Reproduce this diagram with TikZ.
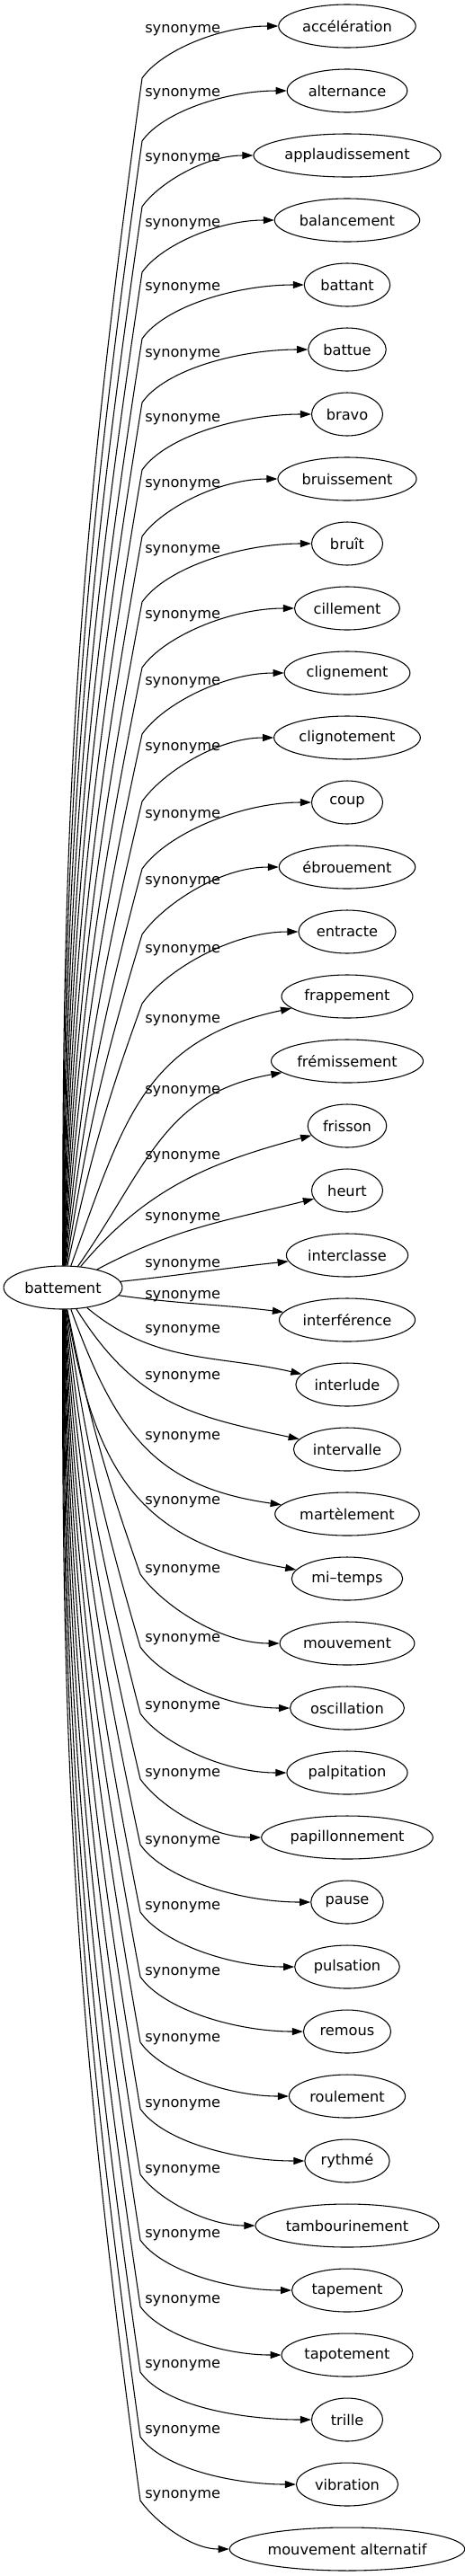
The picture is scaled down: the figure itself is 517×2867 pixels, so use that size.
\documentclass[tikz,border=0pt]{standalone}
\usepackage{fontspec}
\setmainfont{DejaVu Sans}
\usetikzlibrary{arrows.meta,shapes.geometric}
\begin{document}
\begin{tikzpicture}[x=0.75pt, y=0.75pt]
		\tikzstyle{every node}+=[font=\fontsize{12.15pt}{14pt}\selectfont]
		\tikzstyle{word}=[draw=black, line width=0.8pt, ellipse, inner xsep=3pt, inner ysep=0pt, minimum height=36pt, minimum width=59.25pt]
		\tikzstyle{syn}=[anchor=base west, inner sep=0pt]
		\tikzstyle{link}=[black, line width=0.8pt, -{Triangle[length=9pt,width=6pt]}]
		\useasboundingbox (0,0) rectangle (517,-2867);
		% source
		\node [word] (battement) at (70,-1433) {battement};
		% synonyms
		\node [word] (acceleration) at (386,-29) {accélération};
		\node [word] (alternance) at (386,-101) {alternance};
		\node [word] (applaudissement) at (386,-173) {applaudissement};
		\node [word] (balancement) at (386,-245) {balancement};
		\node [word] (battant) at (386,-317) {battant};
		\node [word] (battue) at (386,-389) {battue};
		\node [word] (bravo) at (386,-461) {bravo};
		\node [word] (bruissement) at (386,-533) {bruissement};
		\node [word] (bruit) at (386,-605) {bruît};
		\node [word] (cillement) at (386,-677) {cillement};
		\node [word] (clignement) at (386,-749) {clignement};
		\node [word] (clignotement) at (386,-821) {clignotement};
		\node [word] (coup) at (386,-893) {coup};
		\node [word] (ebrouement) at (386,-965) {ébrouement};
		\node [word] (entracte) at (386,-1037) {entracte};
		\node [word] (frappement) at (386,-1109) {frappement};
		\node [word] (fremissement) at (386,-1181) {frémissement};
		\node [word] (frisson) at (386,-1253) {frisson};
		\node [word] (heurt) at (386,-1325) {heurt};
		\node [word] (interclasse) at (386,-1397) {interclasse};
		\node [word] (interference) at (386,-1469) {interférence};
		\node [word] (interlude) at (386,-1541) {interlude};
		\node [word] (intervalle) at (386,-1613) {intervalle};
		\node [word] (martelement) at (386,-1685) {martèlement};
		\node [word] (mitemps) at (386,-1757) {mi–temps};
		\node [word] (mouvement) at (386,-1829) {mouvement};
		\node [word] (oscillation) at (386,-1901) {oscillation};
		\node [word] (palpitation) at (386,-1973) {palpitation};
		\node [word] (papillonnement) at (386,-2045) {papillonnement};
		\node [word] (pause) at (386,-2117) {pause};
		\node [word] (pulsation) at (386,-2189) {pulsation};
		\node [word] (remous) at (386,-2261) {remous};
		\node [word] (roulement) at (386,-2333) {roulement};
		\node [word] (rythme) at (386,-2405) {rythmé};
		\node [word] (tambourinement) at (386,-2477) {tambourinement};
		\node [word] (tapement) at (386,-2549) {tapement};
		\node [word] (tapotement) at (386,-2621) {tapotement};
		\node [word] (trille) at (386,-2693) {trille};
		\node [word] (vibration) at (386,-2765) {vibration};
		\node [word] (mvtalternatif) at (386,-2837) {mouvement alternatif};
		% bends
		\coordinate (k1) at (158,-87);
		\coordinate (k2) at (158,-157);
		\coordinate (k3) at (158,-230);
		\coordinate (k4) at (158,-303);
		\coordinate (k5) at (158,-377);
		\coordinate (k6) at (158,-448);
		\coordinate (k7) at (158,-523);
		\coordinate (k8) at (158,-597);
		\coordinate (k9) at (158,-670);
		\coordinate (k10) at (158,-743);
		\coordinate (k11) at (158,-817);
		\coordinate (k12) at (158,-892);
		\coordinate (k13) at (158,-967);
		\coordinate (k14) at (158,-1040);
		\coordinate (k15) at (158,-1117);
		\coordinate (k26) at (156,-1752);
		\coordinate (k27) at (156,-1833);
		\coordinate (k28) at (156,-1907);
		\coordinate (k29) at (156,-1980);
		\coordinate (k30) at (156,-2053);
		\coordinate (k31) at (156,-2128);
		\coordinate (k32) at (156,-2200);
		\coordinate (k33) at (156,-2273);
		\coordinate (k34) at (156,-2347);
		\coordinate (k35) at (156,-2420);
		\coordinate (k36) at (156,-2493);
		\coordinate (k37) at (156,-2567);
		\coordinate (k38) at (156,-2640);
		\coordinate (k39) at (156,-2712);
		\coordinate (k40) at (156,-2783);
		% labels
		\node [syn] (s1) at (161,-36) {synonyme};
		\node [syn] (s2) at (161,-107) {synonyme};
		\node [syn] (s3) at (161,-179) {synonyme};
		\node [syn] (s4) at (161,-252) {synonyme};
		\node [syn] (s5) at (161,-323) {synonyme};
		\node [syn] (s6) at (161,-397) {synonyme};
		\node [syn] (s7) at (161,-469) {synonyme};
		\node [syn] (s8) at (161,-542) {synonyme};
		\node [syn] (s9) at (161,-615) {synonyme};
		\node [syn] (s10) at (161,-688) {synonyme};
		\node [syn] (s11) at (161,-762) {synonyme};
		\node [syn] (s12) at (161,-835) {synonyme};
		\node [syn] (s13) at (161,-910) {synonyme};
		\node [syn] (s14) at (161,-984) {synonyme};
		\node [syn] (s15) at (161,-1060) {synonyme};
		\node [syn] (s16) at (161,-1138) {synonyme};
		\node [syn] (s17) at (161,-1217) {synonyme};
		\node [syn] (s18) at (161,-1290) {synonyme};
		\node [syn] (s19) at (161,-1358) {synonyme};
		\node [syn] (s20) at (161,-1410) {synonyme};
		\node [syn] (s21) at (161,-1445) {synonyme};
		\node [syn] (s22) at (161,-1483) {synonyme};
		\node [syn] (s23) at (161,-1535) {synonyme};
		\node [syn] (s24) at (161,-1602) {synonyme};
		\node [syn] (s25) at (161,-1674) {synonyme};
		\node [syn] (s26) at (161,-1750) {synonyme};
		\node [syn] (s27) at (161,-1827) {synonyme};
		\node [syn] (s28) at (161,-1902) {synonyme};
		\node [syn] (s29) at (161,-1977) {synonyme};
		\node [syn] (s30) at (161,-2052) {synonyme};
		\node [syn] (s31) at (161,-2125) {synonyme};
		\node [syn] (s32) at (161,-2198) {synonyme};
		\node [syn] (s33) at (161,-2272) {synonyme};
		\node [syn] (s34) at (161,-2345) {synonyme};
		\node [syn] (s35) at (161,-2418) {synonyme};
		\node [syn] (s36) at (161,-2490) {synonyme};
		\node [syn] (s37) at (161,-2563) {synonyme};
		\node [syn] (s38) at (161,-2635) {synonyme};
		\node [syn] (s39) at (161,-2708) {synonyme};
		\node [syn] (s40) at (161,-2780) {synonyme};
		% edges going up
		\draw [link] (battement) to[bend left=4] (k1) to[out=55, in=180, out looseness=0.6] (acceleration);
		\draw [link] (battement) to[bend left=4] (k2) to[out=55, in=180, out looseness=0.6] (alternance);
		\draw [link] (battement) to[bend left=4] (k3) to[out=55, in=180, out looseness=0.6] (applaudissement);
		\draw [link] (battement) to[bend left=4] (k4) to[out=55, in=180, out looseness=0.6] (balancement);
		\draw [link] (battement) to[bend left=4] (k5) to[out=55, in=180, out looseness=0.6] (battant);
		\draw [link] (battement) to[bend left=4] (k6) to[out=55, in=180, out looseness=0.6] (battue);
		\draw [link] (battement) to[bend left=4] (k7) to[out=55, in=180, out looseness=0.6] (bravo);
		\draw [link] (battement) to[bend left=4] (k8) to[out=55, in=180, out looseness=0.6] (bruissement);
		\draw [link] (battement) to[bend left=4] (k9) to[out=55, in=180, out looseness=0.6] (bruit);
		\draw [link] (battement) to[bend left=4] (k10) to[out=55, in=180, out looseness=0.6] (cillement);
		\draw [link] (battement) to[bend left=4] (k11) to[out=55, in=180, out looseness=0.6] (clignement);
		\draw [link] (battement) to[bend left=4] (k12) to[out=55, in=180, out looseness=0.6] (clignotement);
		\draw [link] (battement) to[bend left=4] (k13) to[out=55, in=180, out looseness=0.6] (coup);
		\draw [link] (battement) to[bend left=4] (k14) to[out=55, in=180, out looseness=0.6] (ebrouement);
		\draw [link] (battement) to[bend left=4] (k15) to[out=55, in=180, out looseness=0.6] (entracte);
		% edges in the middle
		\draw [link] (battement) to[out=70, in=192, looseness=1.15] (frappement);
		\draw [link] (battement) to[out=55, in=190, looseness=1.1] (fremissement);
		\draw [link] (battement) to[out=50, in=195] (frisson);
		\draw [link] (battement) to[out=28, in=194] (heurt);
		\draw [link] (battement) to[out=6, in=186] (interclasse);
		\draw [link] (battement) to[out=-8, in=173] (interference);
		\draw [link] (battement) to[out=-40, in=167] (interlude);
		\draw [link] (battement) to[out=-58, in=168, looseness=1.1] (intervalle);
		\draw [link] (battement) to[out=-70, in=172, looseness=1.15] (martelement);
		\draw [link] (battement) to[out=-80, in=170, looseness=1.2] (mitemps);
		% edges going down
		\draw [link] (battement) to[bend right=4] (k26) to[out=-55, in=180, out looseness=0.6] (mouvement);
		\draw [link] (battement) to[bend right=4] (k27) to[out=-55, in=180, out looseness=0.6] (oscillation);
		\draw [link] (battement) to[bend right=4] (k28) to[out=-55, in=180, out looseness=0.6] (palpitation);
		\draw [link] (battement) to[bend right=4] (k29) to[out=-55, in=180, out looseness=0.6] (papillonnement);
		\draw [link] (battement) to[bend right=4] (k30) to[out=-55, in=180, out looseness=0.6] (pause);
		\draw [link] (battement) to[bend right=4] (k31) to[out=-55, in=180, out looseness=0.6] (pulsation);
		\draw [link] (battement) to[bend right=4] (k32) to[out=-55, in=180, out looseness=0.6] (remous);
		\draw [link] (battement) to[bend right=4] (k33) to[out=-55, in=180, out looseness=0.6] (roulement);
		\draw [link] (battement) to[bend right=4] (k34) to[out=-55, in=180, out looseness=0.6] (rythme);
		\draw [link] (battement) to[bend right=4] (k35) to[out=-55, in=180, out looseness=0.6] (tambourinement);
		\draw [link] (battement) to[bend right=4] (k36) to[out=-55, in=180, out looseness=0.6] (tapement);
		\draw [link] (battement) to[bend right=4] (k37) to[out=-55, in=180, out looseness=0.6] (tapotement);
		\draw [link] (battement) to[bend right=4] (k38) to[out=-55, in=180, out looseness=0.6] (trille);
		\draw [link] (battement) to[bend right=4] (k39) to[out=-55, in=180, out looseness=0.6] (vibration);
		\draw [link] (battement) to[bend right=4] (k40) to[out=-55, in=180, out looseness=0.6] (mvtalternatif);
	\end{tikzpicture}
\end{document}
